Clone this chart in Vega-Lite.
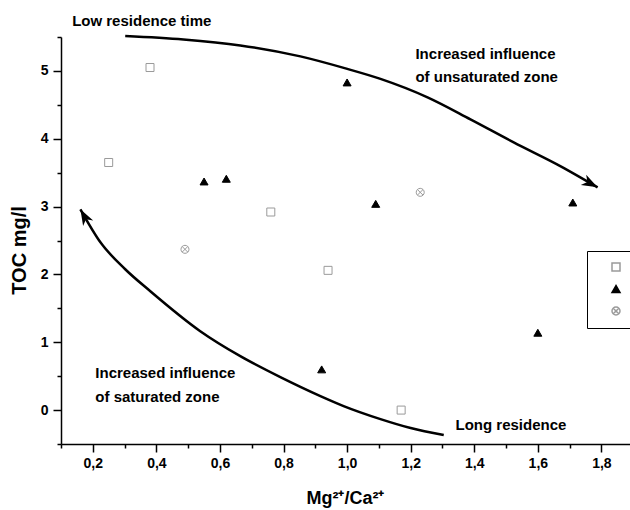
{
  "$schema": "https://vega.github.io/schema/vega-lite/v6.json",
  "autosize": {"type": "none"},
  "padding": {"left": 61, "top": 37, "right": 10, "bottom": 80},
  "width": 604,
  "height": 407,
  "background": "white",
  "config": {
    "view": {"stroke": null},
    "font": "Liberation Sans",
    "axis": {
      "domainColor": "black", "domainWidth": 1.5,
      "tickColor": "black", "tickWidth": 1.5,
      "labelFont": "Liberation Sans", "labelFontWeight": "bold", "labelFontSize": 14, "labelColor": "black",
      "titleFont": "Liberation Sans", "titleFontWeight": "bold", "titleColor": "black",
      "grid": false, "labelOverlap": false
    }
  },
  "resolve": {"axis": {"x": "independent", "y": "independent"}},
  "datasets": {
    "pts": [
      {"ratio": 0.25, "toc": 3.65, "series": "Group A"},
      {"ratio": 0.38, "toc": 5.05, "series": "Group A"},
      {"ratio": 0.76, "toc": 2.92, "series": "Group A"},
      {"ratio": 0.94, "toc": 2.06, "series": "Group A"},
      {"ratio": 1.17, "toc": 0.0, "series": "Group A"},
      {"ratio": 0.55, "toc": 3.37, "series": "Group B"},
      {"ratio": 0.62, "toc": 3.41, "series": "Group B"},
      {"ratio": 1.0, "toc": 4.83, "series": "Group B"},
      {"ratio": 1.09, "toc": 3.04, "series": "Group B"},
      {"ratio": 1.71, "toc": 3.06, "series": "Group B"},
      {"ratio": 1.6, "toc": 1.14, "series": "Group B"},
      {"ratio": 0.92, "toc": 0.6, "series": "Group B"},
      {"ratio": 0.49, "toc": 2.37, "series": "Group C"},
      {"ratio": 1.23, "toc": 3.21, "series": "Group C"}
    ],
    "curves": [
      {"curve": "up", "i": 0, "ratio": 0.302, "toc": 5.515},
      {"curve": "up", "i": 1, "ratio": 0.485, "toc": 5.464},
      {"curve": "up", "i": 2, "ratio": 0.664, "toc": 5.376},
      {"curve": "up", "i": 3, "ratio": 0.853, "toc": 5.214},
      {"curve": "up", "i": 4, "ratio": 0.995, "toc": 5.037},
      {"curve": "up", "i": 5, "ratio": 1.105, "toc": 4.882},
      {"curve": "up", "i": 6, "ratio": 1.253, "toc": 4.61},
      {"curve": "up", "i": 7, "ratio": 1.388, "toc": 4.286},
      {"curve": "up", "i": 8, "ratio": 1.524, "toc": 3.947},
      {"curve": "up", "i": 9, "ratio": 1.672, "toc": 3.594},
      {"curve": "up", "i": 10, "ratio": 1.788, "toc": 3.284},
      {"curve": "low", "i": 0, "ratio": 0.161, "toc": 2.96},
      {"curve": "low", "i": 1, "ratio": 0.224, "toc": 2.474},
      {"curve": "low", "i": 2, "ratio": 0.302, "toc": 2.076},
      {"curve": "low", "i": 3, "ratio": 0.381, "toc": 1.752},
      {"curve": "low", "i": 4, "ratio": 0.538, "toc": 1.163},
      {"curve": "low", "i": 5, "ratio": 0.664, "toc": 0.795},
      {"curve": "low", "i": 6, "ratio": 0.79, "toc": 0.486},
      {"curve": "low", "i": 7, "ratio": 0.916, "toc": 0.206},
      {"curve": "low", "i": 8, "ratio": 0.989, "toc": 0.059},
      {"curve": "low", "i": 9, "ratio": 1.105, "toc": -0.133},
      {"curve": "low", "i": 10, "ratio": 1.2, "toc": -0.265},
      {"curve": "low", "i": 11, "ratio": 1.304, "toc": -0.368}
    ],
    "notes": [
      {"ratio": 0.135, "toc": 5.733, "label": "Low residence time"},
      {"ratio": 1.215, "toc": 5.243, "label": "Increased influence"},
      {"ratio": 1.215, "toc": 4.904, "label": "of unsaturated zone"},
      {"ratio": 0.208, "toc": 0.545, "label": "Increased influence"},
      {"ratio": 0.208, "toc": 0.19, "label": "of saturated zone"},
      {"ratio": 1.341, "toc": -0.22, "label": "Long residence"}
    ]
  },
  "layer": [
    {
      "data": {"name": "curves"},
      "mark": {"type": "line", "color": "black", "strokeWidth": 2.5, "interpolate": "monotone"},
      "encoding": {
        "x": {"field": "ratio", "type": "quantitative",
          "scale": {"domain": [0.1, 2.0], "nice": false, "zero": false},
          "axis": {
            "orient": "bottom",
            "title": "Mg²⁺/Ca²⁺", "titleFontSize": 18, "titleX": 284, "titleY": 54, "titleBaseline": "middle",
            "values": [0.2, 0.4, 0.6, 0.8, 1.0, 1.2, 1.4, 1.6, 1.8],
            "tickSize": 8,
            "labelExpr": "replace(format(datum.value, '.1f'), '.', ',')",
            "labelPadding": 4
          }},
        "y": {"field": "toc", "type": "quantitative",
          "scale": {"domain": [-0.5, 5.5], "nice": false, "zero": false},
          "axis": {
            "orient": "left",
            "title": "TOC mg/l", "titleFontSize": 20, "titleX": -42, "titleY": 213, "titleBaseline": "middle",
            "values": [0, 1, 2, 3, 4, 5],
            "tickSize": 8,
            "format": "d",
            "labelPadding": 5
          }},
        "detail": {"field": "curve"},
        "order": {"field": "i", "type": "quantitative"}
      }
    },
    {
      "data": {"name": "curves"},
      "transform": [{"filter": "datum.curve === 'up' && datum.i === 10"}],
      "mark": {"type": "point", "shape": "M0,0L-1,-0.36L-0.72,0L-1,0.36Z", "size": 1024, "filled": true, "color": "black", "angle": 28, "opacity": 1},
      "encoding": {
        "x": {"field": "ratio", "type": "quantitative",
          "axis": {"orient": "bottom", "title": null, "domain": false, "labels": false, "tickSize": 4,
            "values": [0.1, 0.3, 0.5, 0.7, 0.9, 1.1, 1.3, 1.5, 1.7, 1.9]}},
        "y": {"field": "toc", "type": "quantitative",
          "axis": {"orient": "left", "title": null, "domain": false, "labels": false, "tickSize": 4,
            "values": [-0.5, 0.5, 1.5, 2.5, 3.5, 4.5, 5.5]}}
      }
    },
    {
      "data": {"name": "curves"},
      "transform": [{"filter": "datum.curve === 'low' && datum.i === 0"}],
      "mark": {"type": "point", "shape": "M0,0L-1,-0.36L-0.72,0L-1,0.36Z", "size": 1024, "filled": true, "color": "black", "angle": 241, "opacity": 1},
      "encoding": {
        "x": {"field": "ratio", "type": "quantitative", "axis": null},
        "y": {"field": "toc", "type": "quantitative", "axis": null}
      }
    },
    {
      "data": {"name": "pts"},
      "mark": {"type": "point", "size": 64, "strokeWidth": 1, "opacity": 1},
      "encoding": {
        "x": {"field": "ratio", "type": "quantitative", "axis": null},
        "y": {"field": "toc", "type": "quantitative", "axis": null},
        "shape": {"field": "series", "type": "nominal",
          "scale": {"domain": ["Group A", "Group B", "Group C"],
            "range": ["square", "triangle-up", "M-1,0A1,1,0,1,1,1,0A1,1,0,1,1,-1,0ZM-0.7,-0.7L0.7,0.7M-0.7,0.7L0.7,-0.7"]},
          "legend": {"orient": "none", "legendX": 526, "legendY": 214, "title": null,
            "strokeColor": "black", "padding": 10, "symbolOffset": 13, "rowPadding": 8, "symbolSize": 64,
            "labelExpr": "''", "labelFontSize": 12, "labelFont": "Liberation Sans", "labelColor": "black"}},
        "fill": {"field": "series", "type": "nominal",
          "scale": {"domain": ["Group A", "Group B", "Group C"], "range": ["white", "black", "white"]}},
        "stroke": {"field": "series", "type": "nominal",
          "scale": {"domain": ["Group A", "Group B", "Group C"], "range": ["#9a9a9a", "black", "#9a9a9a"]}}
      }
    },
    {
      "data": {"name": "notes"},
      "mark": {"type": "text", "align": "left", "baseline": "middle", "font": "Liberation Sans", "fontWeight": "bold", "fontSize": 15, "color": "black"},
      "encoding": {
        "x": {"field": "ratio", "type": "quantitative", "axis": null},
        "y": {"field": "toc", "type": "quantitative", "axis": null},
        "text": {"field": "label"}
      }
    }
  ]
}
